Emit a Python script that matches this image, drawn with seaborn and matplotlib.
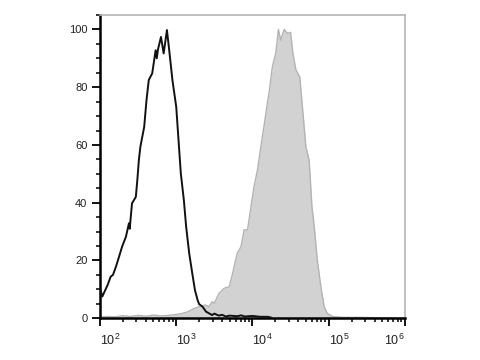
import numpy as np
import pandas as pd
import matplotlib
matplotlib.use("Agg")
import matplotlib.pyplot as plt
from matplotlib.ticker import LogLocator, MultipleLocator, NullFormatter
import seaborn as sns

# ---- data (log10 of fluorescence intensity, % of max) ----
black_log = [2.00, 2.03, 2.07, 2.10, 2.14, 2.17, 2.21, 2.25, 2.29, 2.34, 2.38, 2.39,
             2.42, 2.47, 2.49, 2.51, 2.53, 2.58, 2.61, 2.64, 2.685, 2.73, 2.745, 2.76,
             2.80, 2.835, 2.878, 2.908, 2.95, 3.00, 3.03, 3.06, 3.10, 3.13, 3.17, 3.21,
             3.245, 3.28, 3.30, 3.345, 3.39, 3.41, 3.47, 3.50, 3.56, 3.60, 3.65, 3.70,
             3.80, 3.85, 3.90, 4.00, 4.10, 4.20, 4.25]
black_val = [10.5, 7.5, 9.8, 11.5, 14.4, 15.0, 17.9, 21.3, 24.8, 28.2, 32.9, 31.0,
             39.8, 42.0, 47.9, 54.8, 59.4, 66.3, 75.5, 82.5, 84.8, 92.8, 90.0, 93.0,
             97.4, 91.7, 99.8, 92.8, 82.5, 73.2, 61.7, 50.2, 40.9, 31.7, 22.5, 15.6,
             9.8, 6.3, 4.9, 4.0, 2.3, 2.0, 1.1, 1.6, 0.9, 1.2, 0.6, 0.9,
             0.7, 1.0, 0.6, 0.8, 0.5, 0.5, 0.2]

gray_log = [2.00, 2.10, 2.20, 2.30, 2.40, 2.50, 2.60, 2.70, 2.80, 2.90, 3.00, 3.07,
            3.15, 3.22, 3.30, 3.38, 3.43, 3.47, 3.50, 3.56, 3.63, 3.695, 3.74, 3.80,
            3.85, 3.89, 3.935, 3.98, 4.02, 4.065, 4.11, 4.15, 4.195, 4.22, 4.26, 4.307,
            4.34, 4.37, 4.415, 4.46, 4.50, 4.53, 4.57, 4.62, 4.655, 4.70, 4.743, 4.78,
            4.81, 4.85, 4.897, 4.94, 4.98, 5.05, 5.20, 5.40, 5.60, 6.00]
gray_val = [0.4, 0.6, 0.5, 0.9, 0.6, 1.0, 0.7, 1.1, 0.8, 1.0, 1.3, 1.6,
            2.2, 3.2, 4.0, 4.6, 4.0, 5.7, 5.2, 8.6, 10.4, 10.9, 15.6, 22.5,
            24.8, 30.6, 30.6, 38.6, 45.5, 51.3, 59.4, 66.3, 74.4, 78.5, 87.0, 92.0,
            100.0, 96.3, 100.0, 98.6, 99.0, 91.7, 86.0, 83.6, 73.2, 59.4, 54.8, 38.6,
            31.7, 20.2, 10.9, 4.0, 1.7, 0.6, 0.3, 0.3, 0.2, 0.0]

x_tick_exps = [2, 3, 4, 5, 6]
y_ticks = [0, 20, 40, 60, 80, 100]

black_df = pd.DataFrame({"x": np.power(10.0, black_log), "y": black_val})
gray_df = pd.DataFrame({"x": np.power(10.0, gray_log), "y": gray_val})

sns.set_style("ticks")
plt.rcParams["font.family"] = ["Liberation Sans", "DejaVu Sans"]
plt.rcParams["mathtext.default"] = "regular"

fig = plt.figure(figsize=(4.8, 3.6), dpi=100)
ax = fig.add_axes([0.2083, 0.1160, 0.6354, 0.8423])
ax.set_xscale("log")

ax.fill_between(gray_df["x"], 0, gray_df["y"], color="#d2d2d2", linewidth=0, zorder=1)
sns.lineplot(data=gray_df, x="x", y="y", ax=ax, color="#b3b3b3", linewidth=1.0, zorder=2)
sns.lineplot(data=black_df, x="x", y="y", ax=ax, color="#111111", linewidth=1.4, zorder=3)

ax.set_xlim(1e2, 1e6)
ax.set_ylim(0, 105)
ax.set_xlabel("")
ax.set_ylabel("")

ax.set_xticks([10.0 ** e for e in x_tick_exps])
ax.set_xticklabels(["$10^{%d}$" % e for e in x_tick_exps])
ax.xaxis.set_minor_locator(LogLocator(base=10, subs=np.arange(2, 10)))
ax.xaxis.set_minor_formatter(NullFormatter())
labels = ax.get_xticklabels()
for i, lab in enumerate(labels):
    lab.set_ha("right" if i == len(labels) - 1 else "left")

ax.set_yticks(y_ticks)
ax.set_yticklabels([str(v) for v in y_ticks])
ax.yaxis.set_minor_locator(MultipleLocator(5))

ax.tick_params(axis="both", which="major", direction="out", length=5.5, width=1.3,
               color="black", labelcolor="#222222")
ax.tick_params(axis="x", which="major", pad=5, labelsize=9)
ax.tick_params(axis="y", which="major", pad=3.5, labelsize=8)
ax.tick_params(axis="both", which="minor", direction="out", length=2.8, width=1.1, color="black")

for s in ["left", "bottom"]:
    ax.spines[s].set_color("black")
    ax.spines[s].set_linewidth(1.8)
for s in ["top", "right"]:
    ax.spines[s].set_visible(True)
    ax.spines[s].set_color("#b5b5b5")
    ax.spines[s].set_linewidth(1.2)

fig.savefig("out.png", dpi=100)
